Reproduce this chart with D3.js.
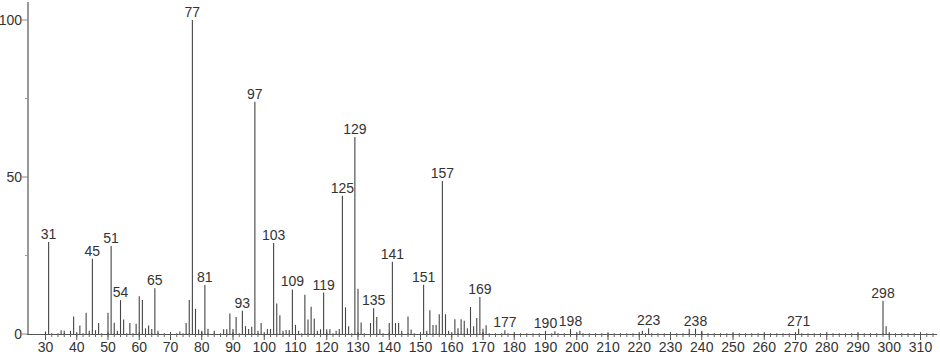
<!DOCTYPE html>
<html><head><meta charset="utf-8">
<script src="https://cdn.jsdelivr.net/npm/d3@7"></script>
<style>html,body{margin:0;padding:0;background:#fff;}svg{display:block;}</style>
</head><body>
<svg id="c" width="940" height="356"></svg>
<script>
const mz = [30,31,35,36,38,39,41,43,44,45,46,47,50,51,52,53,54,55,57,59,60,61,62,63,64,65,66,73,75,76,77,78,79,80,81,82,84,87,88,89,90,91,93,94,95,96,97,98,99,101,102,103,104,105,106,107,108,109,110,111,113,114,115,116,117,118,119,120,121,123,124,125,126,127,129,130,131,134,135,136,137,140,141,142,143,144,146,147,151,152,153,154,155,156,157,158,159,161,162,163,164,165,166,167,168,169,170,171,177,190,193,198,201,221,223,236,238,240,271,298,299];
const intensity = [0.8,29.3,1.2,1,1,5.6,2.7,6.8,1,24,1.2,3.5,6.8,28,3.6,1,10.8,4.6,3.5,3.3,12,10.8,1.8,2.7,1.6,14.6,1,0.8,3.5,10.8,100,8,1.4,1,15.6,1.7,1,1.5,1.5,6.5,1.6,5.4,7.4,2.5,1.6,2.3,74,1,3.5,1.6,1.6,29,9.7,6,1,1.3,1.3,14.2,2.9,1,12.5,4.6,8.7,4.9,1,1.5,13.2,1.5,1.5,1,1.6,44,8.5,2.5,62.7,14.4,3.7,3.5,8.2,5.4,1.5,3.5,23,3.5,3.5,1,5.6,1.4,15.7,1,7.6,2.9,2.9,6.3,48.7,6.3,1,4.7,1.8,4.7,4.2,1.8,8.6,2.5,5.1,11.8,1.7,2.8,1.2,1,0.9,1.6,1,1,1.8,1.7,1.7,1,1.7,10.6,2.5];
const labelled = [31,45,51,54,65,77,81,93,97,103,109,119,125,129,135,141,151,157,169,177,190,198,223,238,271,298];
const xTicks = d3.range(30, 311, 10);
const xMinor = d3.range(30, 316, 2);
const yTicks = [0, 50, 100];
const yMinor = [25, 75];

const svg = d3.select("#c");
const x = d3.scaleLinear().domain([30, 310]).range([45.5, 920.5]);
const y = d3.scaleLinear().domain([0, 100]).range([334, 20]);
const font = "'Liberation Sans', Arial, sans-serif";

// y axis line
svg.append("line").attr("x1", 28).attr("x2", 28).attr("y1", 2).attr("y2", y(0))
  .attr("stroke", "#999").attr("stroke-width", 2);

// y ticks
svg.selectAll(".yt").data(yTicks).enter().append("line")
  .attr("x1", 22).attr("x2", 28).attr("y1", d => y(d)).attr("y2", d => y(d))
  .attr("stroke", "#888").attr("stroke-width", 1);
svg.selectAll(".ym").data(yMinor).enter().append("line")
  .attr("x1", 25).attr("x2", 28).attr("y1", d => y(d)).attr("y2", d => y(d))
  .attr("stroke", "#999").attr("stroke-width", 1);
svg.selectAll(".yl").data(yTicks).enter().append("text")
  .attr("x", 22).attr("y", d => y(d) + 5).attr("text-anchor", "end")
  .attr("font-family", font).attr("font-size", 14).attr("fill", "#333")
  .text(d => d);

// x axis line
svg.append("line").attr("x1", 27).attr("x2", 937).attr("y1", y(0) + 0.5).attr("y2", y(0) + 0.5)
  .attr("stroke", "#555").attr("stroke-width", 1);
svg.selectAll(".xm").data(xMinor).enter().append("line")
  .attr("x1", d => x(d)).attr("x2", d => x(d)).attr("y1", y(0) - 1).attr("y2", y(0) + 3)
  .attr("stroke", "#666").attr("stroke-width", 1);
svg.selectAll(".xt").data(xTicks).enter().append("line")
  .attr("x1", d => x(d)).attr("x2", d => x(d)).attr("y1", y(0) - 2).attr("y2", y(0) + 6)
  .attr("stroke", "#555").attr("stroke-width", 1);
svg.selectAll(".xl").data(xTicks).enter().append("text")
  .attr("x", d => x(d)).attr("y", 352).attr("text-anchor", "middle")
  .attr("font-family", font).attr("font-size", 14).attr("fill", "#333")
  .text(d => d);

// peaks
const peaks = mz.map((m, i) => ({m, v: intensity[i]}));
svg.selectAll(".pk").data(peaks).enter().append("line")
  .attr("x1", d => x(d.m)).attr("x2", d => x(d.m))
  .attr("y1", y(0)).attr("y2", d => y(d.v))
  .attr("stroke", "#444").attr("stroke-width", 1.1);

// peak labels
svg.selectAll(".pl").data(peaks.filter(d => labelled.includes(d.m))).enter().append("text")
  .attr("x", d => x(d.m)).attr("y", d => y(d.v) - 3).attr("text-anchor", "middle")
  .attr("font-family", font).attr("font-size", 14).attr("fill", "#333")
  .text(d => d.m);
</script>
</body></html>
